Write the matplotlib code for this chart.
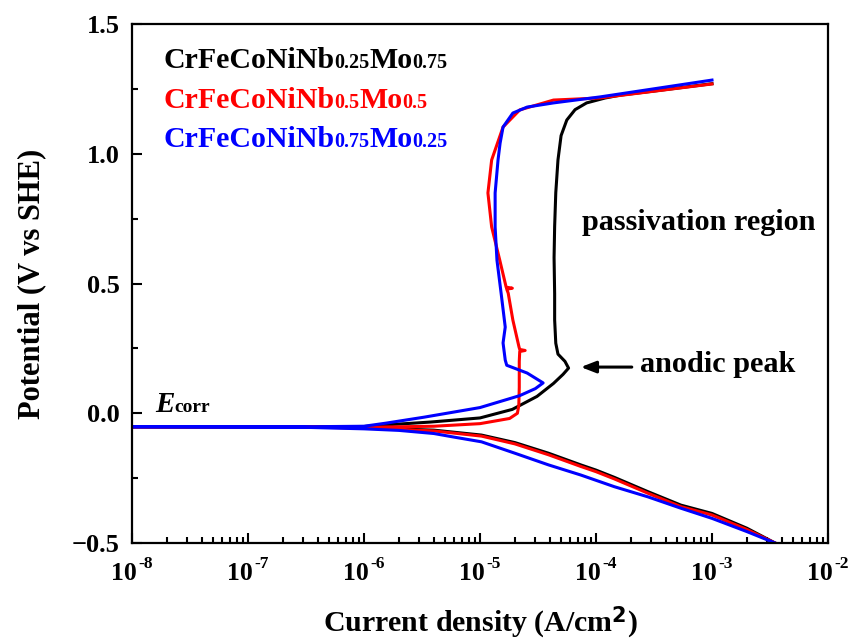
import numpy as np
import matplotlib
matplotlib.use("Agg")
import matplotlib.pyplot as plt
from matplotlib.ticker import LogLocator, MultipleLocator, NullFormatter

plt.rcParams['font.family'] = ['Liberation Serif', 'DejaVu Serif']
plt.rcParams['font.weight'] = 'bold'
plt.rcParams['axes.labelweight'] = 'bold'
plt.rcParams['mathtext.default'] = 'regular'

# polarization curves: current density (A/cm2) and potential (V vs SHE),
# scan from cathodic end through Ecorr to the anodic end
i_nb025 = [3.5e-3, 2.0e-3, 1.0e-3, 5.4e-4, 2.8e-4, 1.44e-4, 1.0e-4, 7.4e-5, 3.9e-5,
           2.0e-5, 1.03e-5, 4.0e-6, 1.0e-6, 3.0e-7, 1e-8,
           1e-8, 3e-7, 1.0e-6, 1.4e-6, 3.7e-6, 1.0e-5, 1.9e-5, 3.1e-5, 4.3e-5, 5.2e-5,
           5.8e-5, 5.4e-5, 4.7e-5, 4.5e-5, 4.4e-5, 4.4e-5, 4.35e-5, 4.4e-5, 4.5e-5,
           4.7e-5, 5.0e-5, 5.6e-5, 6.6e-5, 8.3e-5, 1.2e-4, 1.62e-4, 3.2e-4, 1.0e-3]
e_nb025 = [-0.500, -0.443, -0.386, -0.354, -0.302, -0.247, -0.219, -0.199, -0.154,
           -0.113, -0.084, -0.065, -0.056, -0.053, -0.052,
           -0.052, -0.052, -0.051, -0.046, -0.034, -0.018, 0.015, 0.065, 0.115, 0.150,
           0.174, 0.200, 0.228, 0.270, 0.360, 0.460, 0.600, 0.720, 0.850,
           0.976, 1.070, 1.130, 1.170, 1.196, 1.215, 1.226, 1.242, 1.270]

i_nb05 = [3.5e-3, 2.0e-3, 1.0e-3, 5.4e-4, 2.8e-4, 1.44e-4, 1.0e-4, 7.4e-5, 3.9e-5,
          2.0e-5, 1.03e-5, 4.0e-6, 1.0e-6, 3.0e-7, 1e-8,
          1e-8, 3e-7, 1.0e-6, 4.0e-6, 1.0e-5, 1.8e-5, 2.1e-5, 2.16e-5, 2.18e-5, 2.18e-5,
          2.2e-5, 2.45e-5, 2.2e-5, 2.17e-5, 1.92e-5, 1.75e-5, 1.7e-5, 1.9e-5, 1.68e-5,
          1.48e-5, 1.26e-5, 1.17e-5, 1.26e-5, 1.58e-5, 2.2e-5, 4.3e-5, 1.08e-4, 1.0e-3]
e_nb05 = [-0.500, -0.448, -0.392, -0.360, -0.308, -0.253, -0.225, -0.205, -0.160,
          -0.118, -0.088, -0.068, -0.057, -0.053, -0.052,
          -0.052, -0.052, -0.054, -0.050, -0.040, -0.020, 0.000, 0.030, 0.100, 0.200,
          0.238, 0.242, 0.246, 0.255, 0.359, 0.463, 0.478, 0.482, 0.486,
          0.590, 0.718, 0.849, 0.976, 1.103, 1.169, 1.207, 1.215, 1.269]

i_nb075 = [3.5e-3, 2.0e-3, 1.0e-3, 5.4e-4, 2.8e-4, 1.44e-4, 7.4e-5, 3.9e-5, 2.0e-5,
           1.03e-5, 6.0e-6, 4.0e-6, 2.0e-6, 1.0e-6, 3.0e-7, 1e-8,
           1e-8, 3e-7, 1.0e-6, 1.55e-6, 3.3e-6, 1.0e-5, 2.2e-5, 3.0e-5, 3.5e-5, 2.55e-5,
           1.7e-5, 1.65e-5, 1.58e-5, 1.65e-5, 1.52e-5, 1.4e-5, 1.35e-5, 1.35e-5, 1.43e-5,
           1.49e-5, 1.58e-5, 1.92e-5, 2.55e-5, 4.3e-5, 1.08e-4, 1.0e-3]
e_nb075 = [-0.500, -0.456, -0.405, -0.366, -0.322, -0.283, -0.238, -0.199, -0.154,
           -0.110, -0.092, -0.078, -0.066, -0.060, -0.054, -0.052,
           -0.052, -0.052, -0.050, -0.038, -0.015, 0.022, 0.068, 0.095, 0.117, 0.155,
           0.185, 0.205, 0.271, 0.332, 0.463, 0.590, 0.718, 0.849, 0.976,
           1.041, 1.103, 1.157, 1.180, 1.196, 1.219, 1.284]

decades = [1e-8, 1e-7, 1e-6, 1e-5, 1e-4, 1e-3, 1e-2]
decade_exps = ['-8', '-7', '-6', '-5', '-4', '-3', '-2']

series = [
    (i_nb025, e_nb025, 'black', [('CrFeCoNiNb', 21.5), ('0.25', 14.5), ('Mo', 21.5), ('0.75', 14.5)]),
    (i_nb05, e_nb05, '#ff0000', [('CrFeCoNiNb', 21.5), ('0.5', 14.5), ('Mo', 21.5), ('0.5', 14.5)]),
    (i_nb075, e_nb075, '#0000ff', [('CrFeCoNiNb', 21.5), ('0.75', 14.5), ('Mo', 21.5), ('0.25', 14.5)]),
]


def draw_pieces(ax, x, y, pieces, color, renderer, style=None):
    # text pieces of different size sharing one baseline
    for k, (s, size) in enumerate(pieces):
        st = style[k] if style else 'normal'
        t = ax.text(x, y, s, transform=ax.transAxes, fontsize=size, color=color,
                    fontweight='bold', fontstyle=st, va='baseline', ha='left')
        bb = t.get_window_extent(renderer)
        x = ax.transAxes.inverted().transform((bb.x1, bb.y0))[0]


fig = plt.figure(figsize=(8.48, 6.44), dpi=100)
ax = fig.add_axes([0.1557, 0.1568, 0.8207, 0.8059])
renderer = fig.canvas.get_renderer()

for cur, pot, col, _ in series:
    ax.plot(cur, pot, color=col, lw=2.2, solid_joinstyle='round')

ax.set_xscale('log')
ax.set_xlim(1e-8, 1e-2)
ax.set_ylim(-0.5, 1.5)
ax.set_xticks(decades)
ax.xaxis.set_minor_locator(LogLocator(base=10, subs=np.arange(2, 10), numticks=10))
ax.xaxis.set_minor_formatter(NullFormatter())
ax.xaxis.set_major_formatter(NullFormatter())
ax.yaxis.set_major_locator(MultipleLocator(0.5))
ax.yaxis.set_minor_locator(MultipleLocator(0.25))
ax.yaxis.set_major_formatter(plt.FuncFormatter(lambda v, p: f'{v:.1f}'.replace('-', '\u2212')))

ax.tick_params(which='both', direction='in', top=False, right=False, width=1.5)
ax.tick_params(which='major', length=7)
ax.tick_params(which='minor', length=4)
ax.tick_params(axis='y', which='major', labelsize=19, pad=9)
for sp in ax.spines.values():
    sp.set_linewidth(1.6)

# decade labels: "10" with a small raised exponent, as in the original
for v, ex in zip(decades, decade_exps):
    ax.annotate('10', xy=(v, 0), xycoords=('data', 'axes fraction'),
                xytext=(-8, -37), textcoords='offset pixels',
                ha='center', va='baseline', fontsize=18.5, fontweight='bold')
    ax.annotate(ex, xy=(v, 0), xycoords=('data', 'axes fraction'),
                xytext=(6, -25), textcoords='offset pixels',
                ha='left', va='baseline', fontsize=12.5, fontweight='bold')

ax.set_xlabel('Current density (A/cm$^{\\mathbf{2}}$)', fontsize=21.5)
ax.xaxis.label.set_va('baseline')
ax.xaxis.set_label_coords(0.5, -0.172)
ax.set_ylabel('Potential (V vs SHE)', fontsize=22, labelpad=18)

for k, (_, _, col, pieces) in enumerate(series):
    draw_pieces(ax, 0.0445, 0.915 - k * 0.076, pieces, col, renderer)

draw_pieces(ax, 0.033, 0.252, [('E', 21), ('corr', 14)], 'black', renderer,
            style=['italic', 'normal'])

ax.text(7.6e-5, 0.706, 'passivation region', fontsize=21.8, fontweight='bold',
        va='baseline', ha='left')
ax.annotate('', xy=(7.0e-5, 0.178), xytext=(2.15e-4, 0.178),
            arrowprops=dict(arrowstyle='-|>,head_length=0.9,head_width=0.35',
                            color='black', lw=2.2))
ax.text(2.4e-4, 0.159, 'anodic peak', fontsize=21.8, fontweight='bold',
        va='baseline', ha='left')

fig.savefig('out.png', dpi=100)
